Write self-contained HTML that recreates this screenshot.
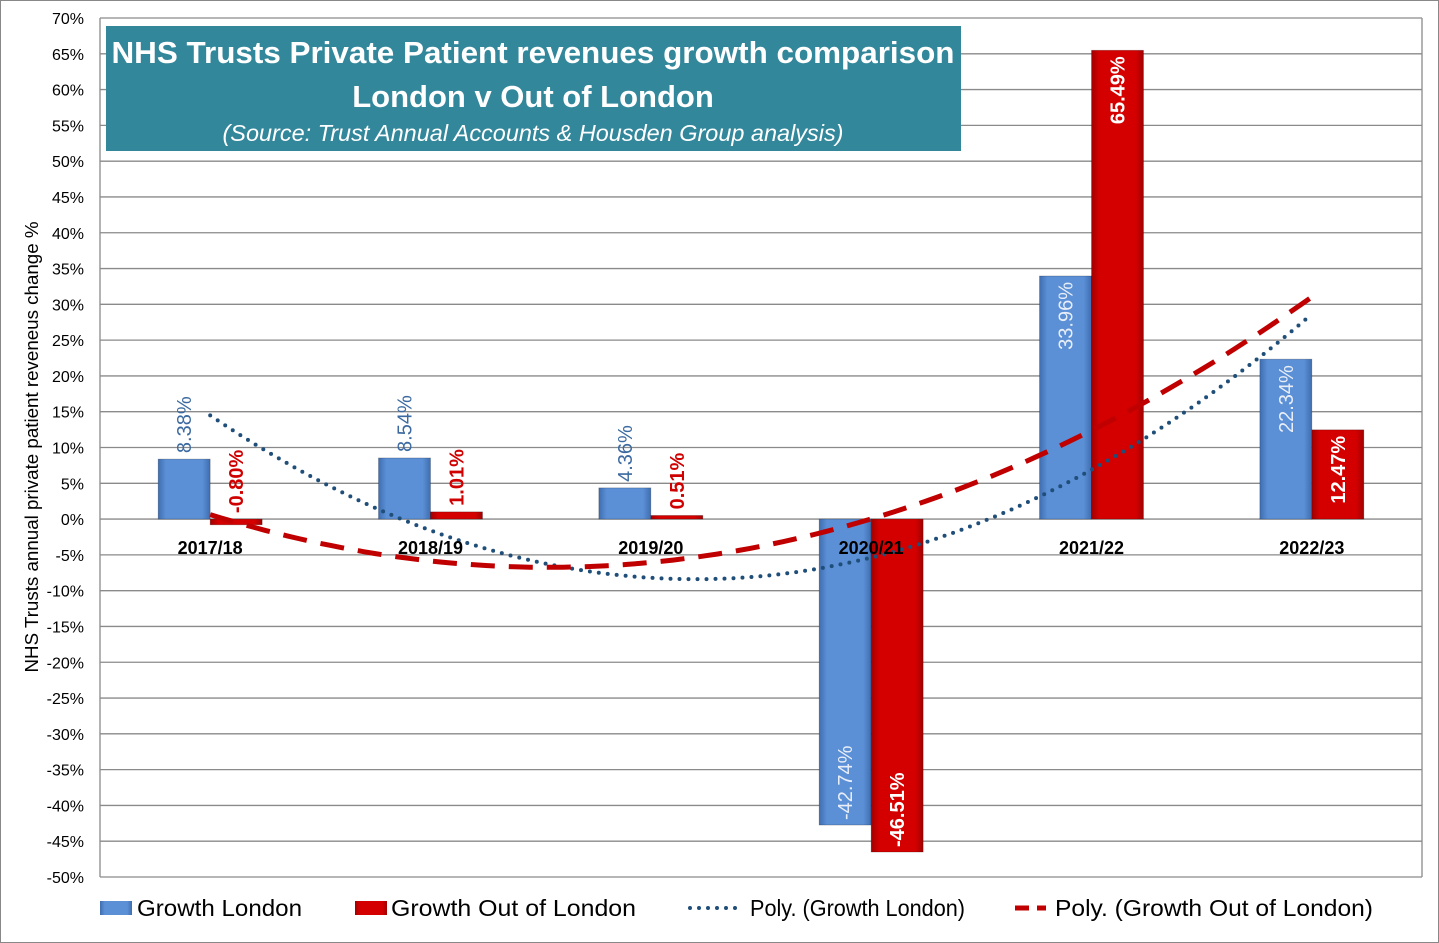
<!DOCTYPE html>
<html><head><meta charset="utf-8"><style>
body{margin:0;background:#fff;}
svg{display:block;font-family:"Liberation Sans",sans-serif;}
</style></head><body>
<svg id="chart" width="1439" height="943" viewBox="0 0 1439 943">
<defs>
<linearGradient id="gb" x1="0" x2="1" y1="0" y2="0"><stop offset="0" stop-color="#3f6eb0"/><stop offset="0.15" stop-color="#5b8fd6"/><stop offset="0.85" stop-color="#5b8fd6"/><stop offset="1" stop-color="#3f6eb0"/></linearGradient>
<linearGradient id="gr" x1="0" x2="1" y1="0" y2="0"><stop offset="0" stop-color="#a00000"/><stop offset="0.15" stop-color="#d40000"/><stop offset="0.85" stop-color="#d40000"/><stop offset="1" stop-color="#a00000"/></linearGradient>
</defs>
<rect x="0.5" y="0.5" width="1438" height="942" fill="#fff" stroke="#888"/>
<g id="grid"></g>
<g id="bars"></g>
<g id="trends"></g>
<g id="labels"></g>
<g>
<rect x="106" y="26" width="855" height="125" fill="#33879b"/>
<text x="533" y="63" text-anchor="middle" fill="#fff" font-size="31" font-weight="bold" textLength="843" lengthAdjust="spacingAndGlyphs">NHS Trusts Private Patient revenues growth comparison</text>
<text x="533" y="107" text-anchor="middle" fill="#fff" font-size="31" font-weight="bold">London v Out of London</text>
<text x="533" y="141" text-anchor="middle" fill="#fff" font-size="23" font-style="italic" textLength="621" lengthAdjust="spacingAndGlyphs">(Source: Trust Annual Accounts &amp; Housden Group analysis)</text>
</g>
<text transform="translate(38,447) rotate(-90)" text-anchor="middle" font-size="18" fill="#000" textLength="451" lengthAdjust="spacingAndGlyphs">NHS Trusts annual private patient reveneus change %</text>
<g>
<rect x="100" y="901" width="32" height="14" fill="url(#gb)"/>
<text x="137" y="916" font-size="23" textLength="165" lengthAdjust="spacingAndGlyphs">Growth London</text>
<rect x="355" y="901" width="32" height="14" fill="url(#gr)"/>
<text x="391" y="916" font-size="23" textLength="245" lengthAdjust="spacingAndGlyphs">Growth Out of  London</text>
<line x1="690" y1="908" x2="740" y2="908" stroke="#1f4e79" stroke-width="4" stroke-dasharray="0 9" stroke-linecap="round"/>
<text x="750" y="916" font-size="23" textLength="215" lengthAdjust="spacingAndGlyphs">Poly. (Growth London)</text>
<line x1="1015" y1="908" x2="1046" y2="908" stroke="#c00000" stroke-width="5" stroke-dasharray="14 8"/>
<text x="1055" y="916" font-size="23" textLength="318" lengthAdjust="spacingAndGlyphs">Poly. (Growth Out of  London)</text>
</g>
</svg>
<script>
const categories=["2017/18","2018/19","2019/20","2020/21","2021/22","2022/23"];
const london=[8.38,8.54,4.36,-42.74,33.96,22.34];
const outLondon=[-0.80,1.01,0.51,-46.51,65.49,12.47];
const yTicks=[70,65,60,55,50,45,40,35,30,25,20,15,10,5,0,-5,-10,-15,-20,-25,-30,-35,-40,-45,-50];
const NS="http://www.w3.org/2000/svg";
const PL=100,PR=1422,PT=18,PB=877,YMAX=70,YMIN=-50;
const y=v=>PT+(YMAX-v)/(YMAX-YMIN)*(PB-PT);
const step=(PR-PL)/categories.length;
const xc=i=>PL+step*(i+0.5);
const BW=52;
function mk(tag,attrs,parent){const e=document.createElementNS(NS,tag);for(const k in attrs)e.setAttribute(k,attrs[k]);document.getElementById(parent).appendChild(e);return e;}
yTicks.forEach(t=>{
 const l=mk('line',{x1:PL,x2:PR,y1:y(t),y2:y(t),stroke:'#8a8a8a','stroke-width':1.3},'grid');
 
 
 const tx=mk('text',{x:84,y:y(t)+6,'text-anchor':'end','font-size':16,fill:'#000'},'grid');
 tx.textContent=t+'%';
 
 
});
const ax=mk('line',{x1:PL,x2:PL,y1:PT,y2:PB,stroke:'#8a8a8a','stroke-width':1.3},'grid');


const rx=mk('line',{x1:PR,x2:PR,y1:PT,y2:PB,stroke:'#8a8a8a','stroke-width':1.3},'grid');


categories.forEach((c,i)=>{
 const t=mk('text',{x:xc(i),y:554,'text-anchor':'middle','font-size':18,'font-weight':'bold'},'labels');
 t.textContent=c;
 
 
});
function drawSeries(vals,fill,name,dx,color,bold){
 vals.forEach((v,i)=>{
  const x0=xc(i)+dx;const top=Math.min(y(v),y(0)),h=Math.abs(y(v)-y(0));
  const r=mk('rect',{x:x0,y:top,width:BW,height:Math.max(h,1),fill:fill,stroke:'rgba(0,0,0,0.25)','stroke-width':0.8},'bars');
  
  
  const lx=x0+BW/2+7;let ly,anchor,col=color;
  if(Math.abs(v)<10){ly=Math.min(y(v),y(0))-6;anchor='start';}
  else if(v>0){ly=y(v)+6;anchor='end';col=bold?'#fff':'#e8eef8';}
  else{ly=y(v)-5;anchor='start';col=bold?'#fff':'#e8eef8';}
  const t=mk('text',{transform:`translate(${lx},${ly}) rotate(-90)`,'text-anchor':anchor,'font-size':20,fill:col,'font-weight':bold?'bold':'normal'},'labels');
  t.textContent=v.toFixed(2)+'%';
  
  
 });
}
drawSeries(london,'url(#gb)','london',-BW,'#3c6aa0',false);
drawSeries(outLondon,'url(#gr)','out-of-london',0,'#d00000',true);
function quadFit(vals){
 let S=[0,0,0,0,0],T=[0,0,0];
 vals.forEach((v,i)=>{const x=i+1;for(let k=0;k<5;k++)S[k]+=Math.pow(x,k);for(let k=0;k<3;k++)T[k]+=v*Math.pow(x,k);});
 const M=[[S[0],S[1],S[2],T[0]],[S[1],S[2],S[3],T[1]],[S[2],S[3],S[4],T[2]]];
 for(let i=0;i<3;i++){for(let j=i+1;j<3;j++){const f=M[j][i]/M[i][i];for(let k=i;k<4;k++)M[j][k]-=f*M[i][k];}}
 const c=[0,0,0];for(let i=2;i>=0;i--){let s=M[i][3];for(let k=i+1;k<3;k++)s-=M[i][k]*c[k];c[i]=s/M[i][i];}
 return x=>c[0]+c[1]*x+c[2]*x*x;
}
function drawTrend(vals,stroke,w,dash,cap,name){
 const f=quadFit(vals);let d='';
 for(let s=0;s<=100;s++){const x=1+5*s/100;const px=xc(x-1),py=y(f(x));d+=(s?'L':'M')+px.toFixed(1)+' '+py.toFixed(1);}
 const p=mk('path',{d:d,fill:'none',stroke:stroke,'stroke-width':w,'stroke-dasharray':dash,'stroke-linecap':cap},'trends');
 
 
}
drawTrend(london,'#1f4e79',4,'0 9','round','poly-trend-london');
drawTrend(outLondon,'#c00000',5,'24 14','butt','poly-trend-out-of-london');
</script>
</body></html>
